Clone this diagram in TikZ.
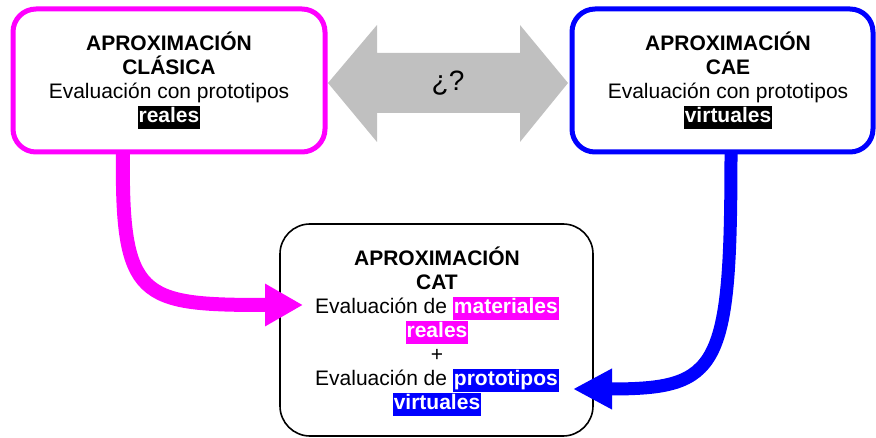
\documentclass[tikz,border=0pt]{standalone}
\usepackage{fontspec}
\setmainfont{Liberation Sans}
\usetikzlibrary{arrows.meta}
\definecolor{mag}{HTML}{FF00FF}
\definecolor{blu}{HTML}{0000FF}
\definecolor{gry}{HTML}{C0C0C0}
\newcommand\hlt[2]{{\setlength{\fboxsep}{0pt}\colorbox{#1}{\rule[-6.5bp]{0pt}{22.5bp}\kern1bp\textcolor{white}{\bfseries #2}\kern1bp}}}
\begin{document}
\begin{tikzpicture}[x=1bp,y=-1bp,
  txt/.style={align=center, font=\fontsize{21bp}{24bp}\selectfont, inner sep=0pt},
  boxa/.style={draw=mag, line width=5bp, rounded corners=23bp, fill=white},
  boxb/.style={draw=blu, line width=5bp, rounded corners=23bp, fill=white},
  boxc/.style={draw=black, line width=1.6bp, rounded corners=30bp, fill=white},
  flowm/.style={draw=mag, line width=14bp, -{Triangle[length=38bp,width=40bp]}},
  flowb/.style={draw=blu, line width=13bp, -{Triangle[length=39bp,width=38bp]}}]
\useasboundingbox (0,0) rectangle (876,438);

% boxes
\draw[boxa] (13,9) rectangle (325,152);
\draw[boxb] (572,9) rectangle (873,152);
\draw[boxc] (280,224) rectangle (593,436);

\node[txt] (clas) at (169,80) {\textbf{APROXIMACIÓN}\\\textbf{CLÁSICA}\\Evaluación con prototipos\\\hlt{black}{reales}};
\node[txt] (cae) at (728,80) {\textbf{APROXIMACIÓN}\\\textbf{CAE}\\Evaluación con prototipos\\\hlt{black}{virtuales}};
\node[txt] (cat) at (437,331) {\textbf{APROXIMACIÓN}\\\textbf{CAT}\\Evaluación de \hlt{mag}{materiales}\\\hlt{mag}{reales}\\+\\Evaluación de \hlt{blu}{prototipos}\\\hlt{blu}{virtuales}};

% grey double arrow
\fill[gry] (328,83) -- (377,25) -- (377,53) -- (520,53) -- (520,25) -- (568,83)
  -- (520,142) -- (520,113) -- (377,113) -- (377,142) -- cycle;
\node[font=\fontsize{28bp}{32bp}\selectfont, inner sep=0pt] (q) at (448,83) {¿?};

% curved arrows
\coordinate (m0) at (123,151);
\coordinate (mt) at (303,305);
\coordinate (b0) at (731,151);
\coordinate (bt) at (573,389);
\draw[flowm] (m0) .. controls (121,300) and (140,305) .. (mt);
\draw[flowb] (b0) .. controls (731,370) and (720,389) .. (bt);
\end{tikzpicture}
\end{document}
